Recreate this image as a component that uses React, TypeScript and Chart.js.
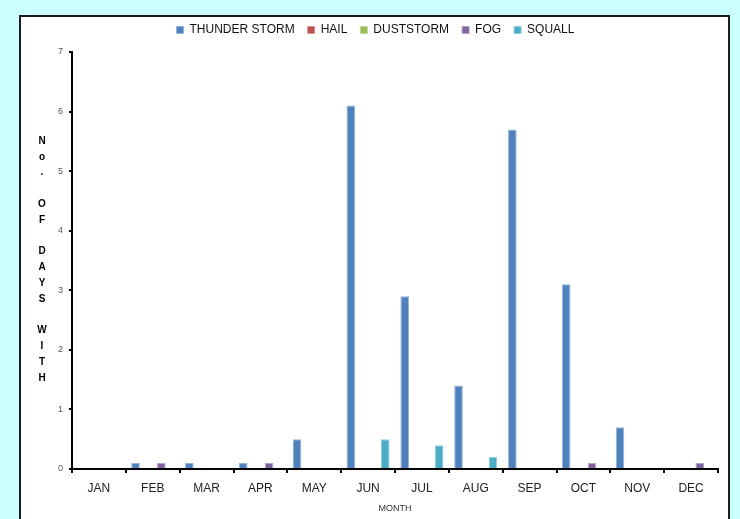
import React, { useEffect, useRef } from "react";
import { Chart, registerables } from "chart.js";

Chart.register(...registerables);

const months = ["JAN", "FEB", "MAR", "APR", "MAY", "JUN", "JUL", "AUG", "SEP", "OCT", "NOV", "DEC"];
const thunderStorm = [0, 0.1, 0.1, 0.1, 0.5, 6.1, 2.9, 1.4, 5.7, 3.1, 0.7, 0];
const hail = [0, 0, 0, 0, 0, 0, 0, 0, 0, 0, 0, 0];
const dustStorm = [0, 0, 0, 0, 0, 0, 0, 0, 0, 0, 0, 0];
const fog = [0, 0.1, 0, 0.1, 0, 0, 0, 0, 0, 0.1, 0, 0.1];
const squall = [0, 0, 0, 0, 0, 0.5, 0.4, 0.2, 0, 0, 0, 0];
const seriesNames = ["THUNDER STORM", "HAIL", "DUSTSTORM", "FOG", "SQUALL"];
const yTicks = [0, 1, 2, 3, 4, 5, 6, 7];
const yTitle = "No. OF DAYS WITH";
const xTitle = "MONTH";

const FONT = "'Liberation Sans', Arial, Helvetica, sans-serif";

const yTitlePlugin = {
  id: "stackedYTitle",
  afterDraw(chart: any) {
    const ctx = chart.ctx;
    const chars = yTitle.split("");
    const lh = 15.8;
    const cy = (chart.chartArea.top + chart.chartArea.bottom) / 2 - 1;
    const startY = cy - ((chars.length - 1) * lh) / 2;
    ctx.save();
    ctx.font = `bold 10px ${FONT}`;
    ctx.fillStyle = "#000";
    ctx.textAlign = "center";
    ctx.textBaseline = "middle";
    chars.forEach((c, i) => {
      if (c !== " ") ctx.fillText(c, 42, startY + i * lh);
    });
    ctx.restore();
  },
};

export default function App() {
  const ref = useRef<HTMLCanvasElement>(null);

  useEffect(() => {
    if (!ref.current) return;
    const mk = (label: string, data: number[], bg: string, bd: string) => ({
      label,
      data,
      backgroundColor: bg,
      borderColor: bd,
      borderWidth: 1,
      xAxisID: "x",
      yAxisID: "y",
    });
    const chart = new Chart(ref.current, {
      type: "bar",
      data: {
        labels: months,
        datasets: [
          mk(seriesNames[0], thunderStorm, "#4f81bd", "#95b3d7"),
          mk(seriesNames[1], hail, "#c0504d", "#d99694"),
          mk(seriesNames[2], dustStorm, "#9bbb59", "#c3d69b"),
          mk(seriesNames[3], fog, "#8064a2", "#b3a2c7"),
          mk(seriesNames[4], squall, "#4bacc6", "#93cddd"),
        ],
      },
      options: {
        responsive: false,
        animation: false,
        devicePixelRatio: 1,
        layout: { padding: { left: 22, right: 11, top: 11, bottom: 0 } },
        datasets: { bar: { categoryPercentage: 0.8, barPercentage: 1 } } as any,
        plugins: {
          legend: {
            position: "top",
            labels: {
              boxWidth: 7,
              boxHeight: 7,
              padding: 13,
              color: "#111",
              font: { family: FONT, size: 12 },
            },
          },
          tooltip: { enabled: false },
          title: { display: false },
        },
        scales: {
          x: {
            type: "category",
            position: "bottom",
            grid: {
              drawOnChartArea: false,
              drawTicks: true,
              tickLength: 4,
              color: "#000",
              lineWidth: 2,
              offset: true,
            },
            border: { display: true, color: "#000", width: 2 },
            ticks: {
              color: "#222",
              font: { family: FONT, size: 12 },
              padding: 8,
              maxRotation: 0,
              autoSkip: false,
            },
            title: {
              display: true,
              text: xTitle,
              color: "#333",
              font: { family: FONT, size: 9 },
              padding: { top: 0, bottom: 5 },
            },
            afterFit: (s: any) => {
              s.height = 50;
            },
          },
          xTop: {
            type: "linear",
            axis: "x",
            position: "top",
            display: true,
            grid: { display: false },
            border: { display: false },
            ticks: { display: false },
            afterFit: (s: any) => {
              s.height = 6;
            },
          },
          y: {
            type: "linear",
            position: "left",
            min: 0,
            max: 7,
            afterBuildTicks: (s: any) => {
              s.ticks = yTicks.map((v) => ({ value: v }));
            },
            grid: {
              drawOnChartArea: false,
              drawTicks: true,
              tickLength: 3,
              color: "#000",
              lineWidth: 2,
            },
            border: { display: true, color: "#000", width: 2 },
            ticks: {
              color: "#555",
              font: { family: FONT, size: 9 },
              padding: 6,
            },
            afterFit: (s: any) => {
              s.width = 50;
            },
          },
          yRight: {
            type: "linear",
            axis: "y",
            position: "right",
            display: true,
            grid: { display: false },
            border: { display: false },
            ticks: { display: false },
            afterFit: (s: any) => {
              s.width = 11;
            },
          },
        } as any,
      },
      plugins: [yTitlePlugin],
    });
    return () => chart.destroy();
  }, []);

  return (
    <div
      style={{
        position: "absolute",
        left: 0,
        top: 0,
        width: 740,
        height: 519,
        background: "#ccffff",
        overflow: "hidden",
      }}
    >
      <div
        style={{
          position: "absolute",
          left: 19,
          top: 15,
          width: 711,
          height: 530,
          background: "#ffffff",
          border: "2px solid #1a1a1a",
          boxSizing: "border-box",
        }}
      />
      <canvas
        ref={ref}
        width={740}
        height={519}
        style={{ position: "absolute", left: 0, top: 0, width: 740, height: 519, display: "block" }}
      />
    </div>
  );
}
